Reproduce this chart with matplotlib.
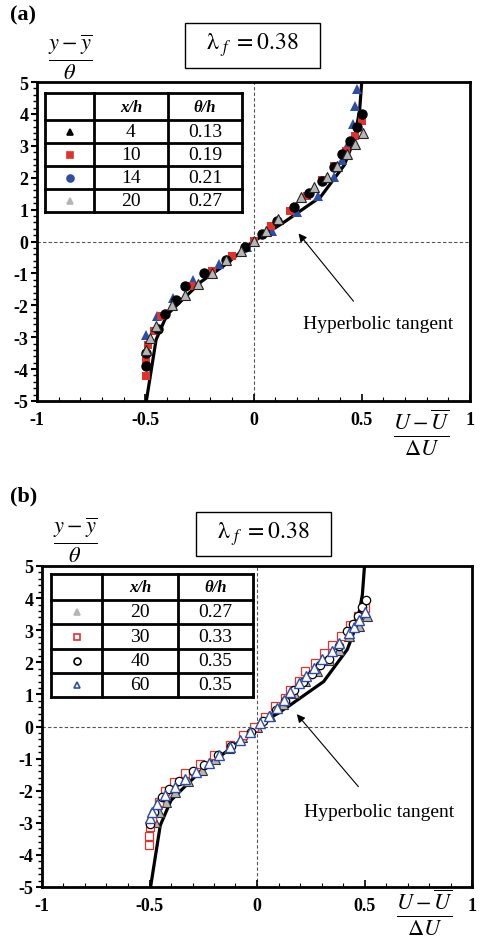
"""
Profils de vitesse moyenne adimensionnels, panneaux (a) et (b)
"""

import matplotlib
matplotlib.use('Agg')
import matplotlib.pyplot as plt
from matplotlib.lines import Line2D
from matplotlib.patches import Rectangle
from matplotlib.ticker import MultipleLocator

plt.rcParams['font.family'] = ['Liberation Serif', 'DejaVu Serif']
plt.rcParams['mathtext.fontset'] = 'stix'

W, H = 480, 945

# Courbe tangente hyperbolique
tanh_x = [-0.495, -0.45, -0.40, -0.34, -0.24, -0.125, 0.0, 0.14, 0.31, 0.42, 0.465, 0.49, 0.50]
tanh_y = [-5.0, -3.08, -2.3, -1.9, -1.25, -0.7, 0.0, 0.6, 1.4, 2.4, 3.2, 4.1, 5.0]

# Panneau (a)
a_circ_x = [-0.495, -0.495, -0.44, -0.41, -0.36, -0.315, -0.227, -0.125, -0.04, 0.037, 0.11,
            0.185, 0.255, 0.315, 0.37, 0.41, 0.448, 0.477, 0.50]
a_circ_y = [-3.9, -3.5, -2.75, -2.28, -1.84, -1.41, -1.0, -0.59, -0.16, 0.25, 0.65,
            1.09, 1.53, 1.9, 2.34, 2.75, 3.16, 3.6, 4.0]
a_sq_x = [-0.495, -0.495, -0.486, -0.458, -0.426, -0.36, -0.287, -0.19, -0.097, 0.0, 0.083,
          0.17, 0.245, 0.315, 0.37, 0.425, 0.47, 0.50]
a_sq_y = [-4.22, -3.75, -3.25, -2.81, -2.34, -1.88, -1.38, -0.94, -0.44, 0.03, 0.5,
          0.97, 1.44, 1.94, 2.38, 2.84, 3.31, 3.78]
a_tri_x = [-0.495, -0.444, -0.37, -0.28, -0.16, -0.03, 0.085, 0.20, 0.30, 0.37, 0.41,
           0.44, 0.458, 0.47, 0.477]
a_tri_y = [-2.94, -2.34, -1.78, -1.22, -0.69, -0.16, 0.34, 0.94, 1.44, 2.03, 2.56,
           3.13, 3.69, 4.25, 4.78]
a_gray_x = [-0.495, -0.477, -0.449, -0.375, -0.315, -0.255, -0.19, -0.125, -0.06, 0.0, 0.06,
            0.115, 0.22, 0.278, 0.338, 0.384, 0.43, 0.47, 0.505]
a_gray_y = [-3.4, -3.03, -2.66, -1.99, -1.69, -1.34, -1.0, -0.59, -0.31, 0.03, 0.34,
            0.69, 1.38, 1.72, 2.03, 2.38, 2.75, 3.06, 3.41]
a_xh = ['4', '10', '14', '20']
a_th = ['0.13', '0.19', '0.21', '0.27']

# Panneau (b)
b_sq_x = [-0.502, -0.502, -0.50, -0.49, -0.458, -0.43, -0.387, -0.334, -0.264, -0.20, -0.126,
          -0.066, -0.014, 0.037, 0.084, 0.13, 0.153, 0.195, 0.223, 0.27, 0.31, 0.349, 0.39,
          0.433, 0.47, 0.50]
b_sq_y = [-3.69, -3.4, -3.13, -2.84, -2.34, -2.0, -1.72, -1.44, -1.16, -0.88, -0.59,
          -0.28, 0.0, 0.31, 0.63, 0.88, 1.13, 1.41, 1.72, 1.97, 2.28, 2.53, 2.81,
          3.16, 3.44, 3.69]
b_circ_x = [-0.497, -0.48, -0.44, -0.41, -0.363, -0.30, -0.247, -0.18, -0.12, -0.03, 0.03,
            0.09, 0.13, 0.172, 0.215, 0.256, 0.293, 0.335, 0.38, 0.42, 0.446, 0.47, 0.49, 0.507]
b_circ_y = [-3.03, -2.66, -2.19, -1.94, -1.69, -1.4, -1.19, -0.9, -0.6, -0.16, 0.16,
            0.5, 0.8, 1.13, 1.38, 1.63, 1.91, 2.09, 2.5, 2.97, 3.19, 3.44, 3.72, 3.94]
b_tri_x = [-0.50, -0.488, -0.465, -0.43, -0.38, -0.335, -0.284, -0.223, -0.177, -0.126, -0.079,
           -0.033, 0.014, 0.056, 0.093, 0.126, 0.153, 0.195, 0.23, 0.265, 0.302, 0.349, 0.381,
           0.428, 0.451, 0.474, 0.502]
b_tri_y = [-2.84, -2.66, -2.41, -2.13, -1.88, -1.63, -1.41, -1.13, -0.88, -0.63, -0.41,
           -0.16, 0.12, 0.34, 0.59, 0.81, 1.09, 1.34, 1.56, 1.81, 2.09, 2.34, 2.59,
           2.91, 3.09, 3.31, 3.56]
b_gray_x = [-0.474, -0.456, -0.423, -0.381, -0.321, -0.256, -0.195, -0.13, -0.07, 0.0, 0.06,
            0.12, 0.17, 0.223, 0.279, 0.335, 0.381, 0.428, 0.474, 0.512]
b_gray_y = [-2.97, -2.66, -2.34, -2.03, -1.69, -1.34, -1.0, -0.66, -0.34, 0.0, 0.34,
            0.69, 1.03, 1.41, 1.72, 2.06, 2.38, 2.81, 3.13, 3.44]
b_xh = ['20', '30', '40', '60']
b_th = ['0.27', '0.33', '0.35', '0.35']

RED = '#e3312b'
BLUE = '#2e4da6'
GRAY = '#b5b5b5'


def fx(px):
    return px / W


def fy(py):
    return 1 - py / H


def setup_axes(ax):
    ax.set_xlim(-1, 1)
    ax.set_ylim(-5, 5)
    ax.xaxis.set_minor_locator(MultipleLocator(0.1))
    ax.yaxis.set_minor_locator(MultipleLocator(0.2))
    ax.set_xticks([-1, -0.5, 0, 0.5, 1])
    ax.set_xticklabels(['-1', '-0.5', '0', '0.5', '1'])
    ax.set_yticks(range(-5, 6))
    ax.set_yticklabels([str(v) for v in range(-5, 6)])
    for lab in ax.get_xticklabels() + ax.get_yticklabels():
        lab.set_fontweight('bold')
        lab.set_fontsize(13)
    ax.tick_params(axis='x', which='major', direction='in', length=5, width=1.2, pad=7)
    ax.tick_params(axis='x', which='minor', direction='in', length=3, width=0.8)
    ax.tick_params(axis='y', which='major', direction='out', length=4, width=1.5, pad=2)
    ax.tick_params(axis='y', which='minor', direction='out', length=3, width=1.0)
    for s in ax.spines.values():
        s.set_linewidth(2)
    ax.axhline(0, color='#555555', linestyle='--', linewidth=0.8, dashes=(3, 2), zorder=1)
    ax.axvline(0, color='#555555', linestyle='--', linewidth=0.8, dashes=(3, 2), zorder=1)
    ax.plot(tanh_x, tanh_y, color='black', linewidth=2.3, zorder=2)


def draw_header(fig, label, label_y, frac_xy, box, xlabel_xy):
    fig.text(fx(10), fy(label_y), label, fontsize=16, fontweight='bold', va='center')
    fig.text(fx(frac_xy[0]), fy(frac_xy[1]), r'$\frac{y-\overline{y}}{\theta}$',
             fontsize=23, ha='center', va='center')
    x0, y0, x1, y1 = box
    fig.add_artist(Rectangle((fx(x0), fy(y1)), fx(x1) - fx(x0), fy(y0) - fy(y1),
                             transform=fig.transFigure, fill=False, edgecolor='black',
                             linewidth=1.0))
    fig.text(fx((x0 + x1) / 2), fy((y0 + y1) / 2 - 1), r'$\mathrm{\lambda}_{\ f}\ \mathrm{= 0.38}$',
             fontsize=17, ha='center', va='center')
    fig.text(fx(xlabel_xy[0]), fy(xlabel_xy[1]), r'$\frac{U-\overline{U}}{\mathit{\Delta U}}$',
             fontsize=23, ha='center', va='center')


def draw_table(fig, cols, rows, markers, xh, th):
    lw = 2.0
    for c in cols:
        fig.add_artist(Line2D([fx(c), fx(c)], [fy(rows[0]), fy(rows[-1])],
                              transform=fig.transFigure, color='black', linewidth=lw))
    for r in rows:
        fig.add_artist(Line2D([fx(cols[0]), fx(cols[-1])], [fy(r), fy(r)],
                              transform=fig.transFigure, color='black', linewidth=lw))
    cx = [(cols[i] + cols[i + 1]) / 2 for i in range(3)]
    cy = [(rows[i] + rows[i + 1]) / 2 for i in range(5)]
    fig.text(fx(cx[1]), fy(cy[0]), 'x/h', fontsize=12, fontweight='bold', fontstyle='italic',
             ha='center', va='center')
    fig.text(fx(cx[2]), fy(cy[0]), 'θ/h', fontsize=12, fontweight='bold', fontstyle='italic',
             ha='center', va='center')
    for i in range(4):
        m, fc, ec = markers[i]
        fig.add_artist(Line2D([fx(cx[0])], [fy(cy[i + 1])], transform=fig.transFigure,
                              marker=m, markersize=5, markerfacecolor=fc,
                              markeredgecolor=ec, markeredgewidth=1.2, linestyle='none'))
        fig.text(fx(cx[1]), fy(cy[i + 1]), xh[i], fontsize=14, ha='center', va='center')
        fig.text(fx(cx[2]), fy(cy[i + 1]), th[i], fontsize=14, ha='center', va='center')


def draw_arrow(ax, text_xy, tip_xy, tail_xy):
    ax.annotate('', xy=tip_xy, xytext=tail_xy,
                arrowprops=dict(arrowstyle='-|>', lw=0.8, color='black', mutation_scale=12))
    ax.text(text_xy[0], text_xy[1], 'Hyperbolic tangent', fontsize=14, ha='left', va='center')


fig = plt.figure(figsize=(W / 100, H / 100), dpi=100)

# ---- (a)
ax1 = fig.add_axes([fx(37), fy(402), fx(470) - fx(37), fy(83) - fy(402)])
setup_axes(ax1)
ax1.plot(a_tri_x, a_tri_y, '^', color=BLUE, markersize=7, markeredgewidth=0, zorder=3)
ax1.plot(a_sq_x, a_sq_y, 's', color=RED, markersize=6, markeredgewidth=0, zorder=4)
ax1.plot(a_circ_x, a_circ_y, 'o', color='black', markersize=6.5, zorder=5)
ax1.plot(a_gray_x, a_gray_y, '^', markerfacecolor=GRAY, markeredgecolor='#222222',
         markersize=7, markeredgewidth=0.8, zorder=6)
draw_arrow(ax1, (0.23, -2.56), (0.2, 0.32), (0.47, -1.94))
draw_header(fig, '(a)', 15, (70, 57), (185, 24, 320, 69), (422, 432))
draw_table(fig, [45, 94, 168, 242], [94, 121, 144, 167, 190, 213],
           [('^', 'black', 'black'), ('s', RED, RED), ('o', BLUE, BLUE), ('^', GRAY, GRAY)],
           a_xh, a_th)

# ---- (b)
ax2 = fig.add_axes([fx(42), fy(888), fx(472) - fx(42), fy(567) - fy(888)])
setup_axes(ax2)
ax2.plot(b_gray_x, b_gray_y, '^', markerfacecolor=GRAY, markeredgecolor='#333333',
         markersize=6.5, markeredgewidth=0.8, zorder=3)
ax2.plot(b_sq_x, b_sq_y, 's', markerfacecolor='white', markeredgecolor=RED,
         markersize=6, markeredgewidth=0.9, zorder=4)
ax2.plot(b_circ_x, b_circ_y, 'o', markerfacecolor='white', markeredgecolor='black',
         markersize=6, markeredgewidth=0.9, zorder=5)
ax2.plot(b_tri_x, b_tri_y, '^', markerfacecolor='white', markeredgecolor=BLUE,
         markersize=6.5, markeredgewidth=1.0, zorder=6)
draw_arrow(ax2, (0.22, -2.66), (0.177, 0.45), (0.48, -1.94))
draw_header(fig, '(b)', 496, (75, 540), (196, 513, 331, 557), (425, 912))
draw_table(fig, [51, 102, 178, 253], [575, 601, 625, 650, 674, 698],
           [('^', GRAY, GRAY), ('s', 'white', RED), ('o', 'white', 'black'), ('^', 'white', BLUE)],
           b_xh, b_th)

fig.savefig('out.png', dpi=100)
plt.close(fig)
